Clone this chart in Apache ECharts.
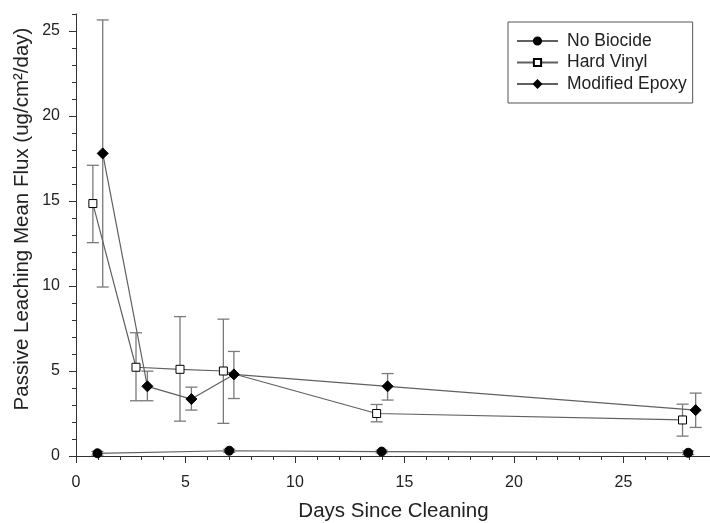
<!DOCTYPE html>
<html>
<head>
<meta charset="utf-8">
<script src="https://cdn.jsdelivr.net/npm/echarts@6/dist/echarts.min.js"></script>
<style>
  html, body { margin: 0; padding: 0; background: #fff; }
  #chart { width: 710px; height: 523px; }
</style>
</head>
<body>
<div id="chart"></div>
<script>
// days since cleaning / mean flux / error bar ends
const noBiocideX = [0.98, 7.0, 13.96, 27.96]
const noBiocideY = [0.16, 0.31, 0.26, 0.19]
const noBiocideLo = [0.05, 0.22, 0.18, 0.08]
const noBiocideHi = [0.27, 0.40, 0.34, 0.30]

const hardVinylX = [0.77, 2.74, 4.75, 6.73, 13.73, 27.7]
const hardVinylY = [14.85, 5.22, 5.1, 5.0, 2.5, 2.12]
const hardVinylLo = [12.55, 3.25, 2.05, 1.92, 2.01, 1.17]
const hardVinylHi = [17.1, 7.25, 8.2, 8.05, 3.03, 3.05]

const epoxyX = [1.22, 3.26, 5.27, 7.21, 14.23, 28.3]
const epoxyY = [17.8, 4.1, 3.35, 4.8, 4.1, 2.7]
const epoxyLo = [9.94, 3.25, 2.7, 3.38, 3.29, 1.68]
const epoxyHi = [25.65, 4.99, 4.05, 6.15, 4.85, 3.7]

const xLabels = [0, 5, 10, 15, 20, 25]
const yLabels = [0, 5, 10, 15, 20, 25]

const FONT = 'Liberation Sans, Arial, sans-serif'
const LINE = '#606060'
const ERR = '#7a7a7a'

const pairs = (xs, ys) => xs.map((x, i) => [x, ys[i]])
const bars = (xs, lo, hi) => xs.map((x, i) => [x, lo[i], hi[i]])
const range = (a, b) => Array.from({ length: b - a + 1 }, (_, i) => a + i)

const errorSeries = (data) => ({
  type: 'custom',
  data,
  encode: { x: 0, y: [1, 2] },
  z: 1,
  silent: true,
  renderItem: (params, api) => {
    const top = api.coord([api.value(0), api.value(2)])
    const bot = api.coord([api.value(0), api.value(1)])
    const w = 6
    const style = { stroke: ERR, lineWidth: 1.3 }
    return {
      type: 'group',
      children: [
        { type: 'line', shape: { x1: top[0], y1: top[1], x2: bot[0], y2: bot[1] }, style },
        { type: 'line', shape: { x1: top[0] - w, y1: top[1], x2: top[0] + w, y2: top[1] }, style },
        { type: 'line', shape: { x1: bot[0] - w, y1: bot[1], x2: bot[0] + w, y2: bot[1] }, style },
      ],
    }
  },
})

const lineSeries = (name, data, symbol, size, fill) => ({
  name,
  type: 'line',
  data,
  symbol,
  symbolSize: size,
  z: 3,
  lineStyle: { color: LINE, width: 1.2 },
  itemStyle: { color: fill, borderColor: '#000', borderWidth: 1 },
  emphasis: { disabled: true },
})

const chart = echarts.init(document.getElementById('chart'))
chart.setOption({
  animation: false,
  textStyle: { fontFamily: FONT },
  grid: { left: 76, right: -1, top: 14, bottom: 67, containLabel: false, outerBoundsMode: 'none' },
  legend: {
    orient: 'vertical',
    left: 508,
    top: 22,
    padding: [10, 6, 10, 8],
    borderColor: '#555',
    borderWidth: 1,
    itemWidth: 41,
    itemHeight: 9,
    itemGap: 3.5,
    textStyle: { fontFamily: FONT, fontSize: 17.5, lineHeight: 17, color: '#222', padding: [0, 0, 0, 4] },
    data: ['No Biocide', 'Hard Vinyl', 'Modified Epoxy'],
  },
  xAxis: [
    {
      type: 'value',
      min: 0,
      max: 29,
      splitLine: { show: false },
      axisLine: { lineStyle: { color: '#333' } },
      axisTick: { customValues: xLabels, length: 7, lineStyle: { color: '#333' } },
      axisLabel: { customValues: xLabels, margin: 19, fontSize: 16, color: '#222', fontFamily: FONT },
      name: 'Days Since Cleaning',
      nameLocation: 'middle',
      nameGap: 45,
      nameTextStyle: { fontSize: 20.5, color: '#222', fontFamily: FONT },
    },
    {
      type: 'value',
      min: 0,
      max: 29,
      position: 'bottom',
      splitLine: { show: false },
      axisLine: { show: false },
      axisTick: { customValues: range(1, 28), length: 4, lineStyle: { color: '#333' } },
      axisLabel: { show: false },
    },
  ],
  yAxis: [
    {
      type: 'value',
      min: 0,
      max: 26,
      splitLine: { show: false },
      axisLine: { show: true, lineStyle: { color: '#333' } },
      axisTick: { show: true, customValues: yLabels, length: 7, lineStyle: { color: '#333' } },
      axisLabel: { customValues: yLabels, margin: 16, fontSize: 16, color: '#222', fontFamily: FONT },
      name: 'Passive Leaching Mean Flux (ug/cm\u00b2/day)',
      nameLocation: 'middle',
      nameGap: 43,
      nameMoveOverlap: false,
      nameTextStyle: { fontSize: 20.5, color: '#222', fontFamily: FONT, padding: [0, 0, 0, 32] },
    },
    {
      type: 'value',
      min: 0,
      max: 26,
      position: 'left',
      splitLine: { show: false },
      axisLine: { show: false },
      axisTick: { show: true, customValues: range(1, 26), length: 4, lineStyle: { color: '#333' } },
      axisLabel: { show: false },
    },
  ],
  series: [
    errorSeries(bars(noBiocideX, noBiocideLo, noBiocideHi)),
    errorSeries(bars(hardVinylX, hardVinylLo, hardVinylHi)),
    errorSeries(bars(epoxyX, epoxyLo, epoxyHi)),
    lineSeries('No Biocide', pairs(noBiocideX, noBiocideY), 'circle', 9, '#000'),
    lineSeries('Hard Vinyl', pairs(hardVinylX, hardVinylY), 'rect', 8, '#fff'),
    lineSeries('Modified Epoxy', pairs(epoxyX, epoxyY), 'diamond', 11, '#000'),
  ],
})
</script>
</body>
</html>
